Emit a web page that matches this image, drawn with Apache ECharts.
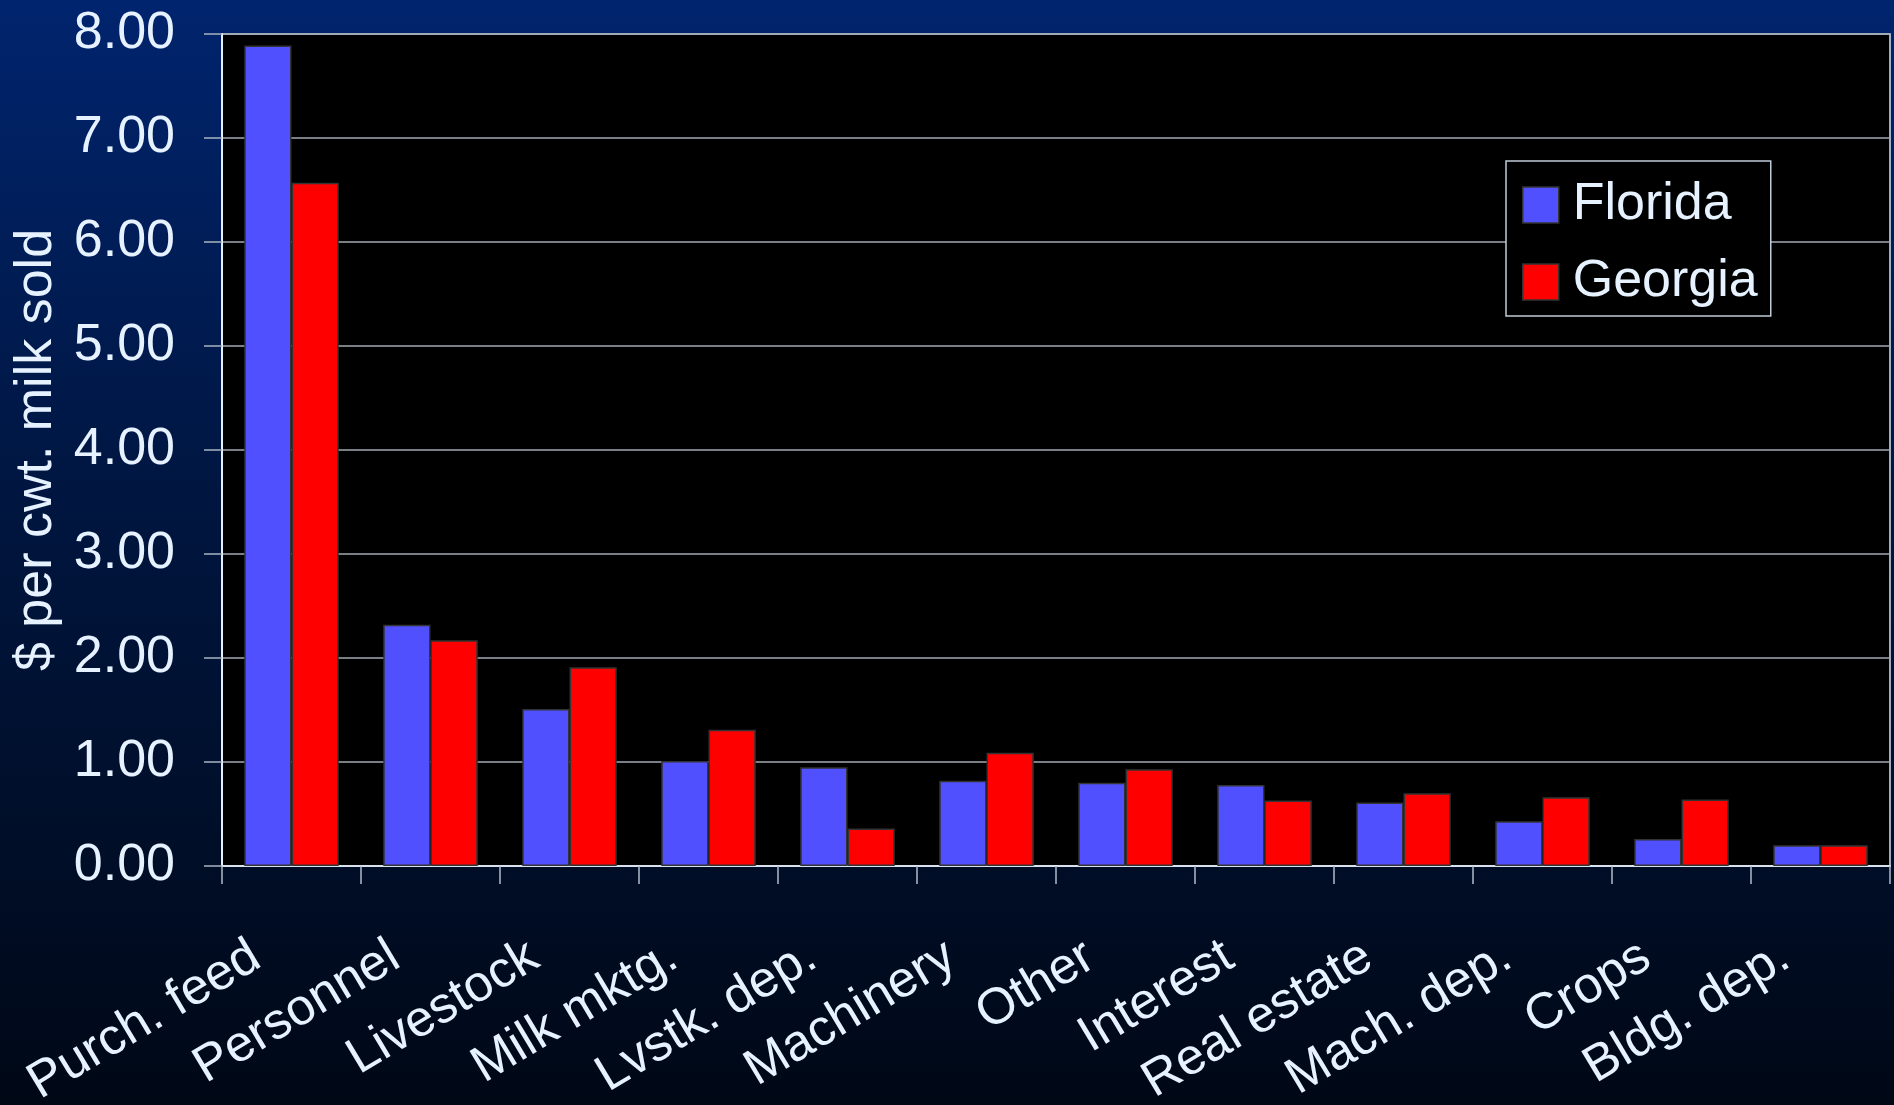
<!DOCTYPE html>
<html>
<head>
<meta charset="utf-8">
<script src="https://cdn.jsdelivr.net/npm/echarts@6/dist/echarts.min.js"></script>
<style>
html,body{margin:0;padding:0;width:1894px;height:1105px;overflow:hidden;}
#c{width:1894px;height:1105px;}
</style>
</head>
<body>
<div id="c"></div>
<script>
const categories = ["Purch. feed","Personnel","Livestock","Milk mktg.","Lvstk. dep.","Machinery","Other","Interest","Real estate","Mach. dep.","Crops","Bldg. dep."];
const florida = [7.89,2.32,1.51,1.01,0.95,0.82,0.80,0.78,0.61,0.43,0.26,0.20];
const georgia = [6.57,2.17,1.91,1.31,0.36,1.09,0.93,0.63,0.70,0.66,0.64,0.20];
const yTicks = [0,1,2,3,4,5,6,7,8];
const seriesNames = ["Florida","Georgia"];

const txt = '#e6f2ff';
const font = 'Liberation Sans, Arial, sans-serif';
const chart = echarts.init(document.getElementById('c'), null, {renderer:'canvas'});
chart.setOption({
  backgroundColor: {type:'linear',x:0,y:0,x2:0,y2:1,colorStops:[
    {offset:0,color:'#00246e'},{offset:0.45,color:'#001640'},{offset:1,color:'#000816'}]},
  animation:false,
  grid:{left:222,right:4,top:34,bottom:239,containLabel:false,outerBoundsMode:'none',show:true,backgroundColor:'#000000',borderColor:'#d8e2ee',borderWidth:1.5},
  legend:{
    orient:'vertical',left:1506,top:161,
    data:seriesNames,
    itemWidth:36,itemHeight:36,itemGap:25,
    padding:[18,13,8,16],
    borderColor:'#c0ccd8',borderWidth:1.5,backgroundColor:'#000000',
    icon:'rect',
    itemStyle:{borderColor:'#333333',borderWidth:1.5},
    textStyle:{color:txt,fontSize:52,fontFamily:font,padding:[0,0,0,9],lineHeight:52}
  },
  xAxis:{
    type:'category',data:categories,
    axisLine:{show:true,lineStyle:{color:'#d8e2ee',width:2}},
    axisTick:{show:true,length:18,alignWithLabel:false,lineStyle:{color:'#b0bcc8',width:1.5}},
    axisLabel:{interval:0,rotate:31,color:txt,fontSize:51,fontFamily:font,margin:66,padding:[0,41,0,0]}
  },
  yAxis:{
    type:'value',min:0,max:8,interval:1,
    name:'$ per cwt. milk sold',nameLocation:'middle',nameGap:156,
    nameTextStyle:{color:txt,fontSize:52,fontFamily:font},
    axisLine:{show:true,lineStyle:{color:'#e6f0fa',width:2}},
    axisTick:{show:true,length:18,lineStyle:{color:'#a8b4c0',width:1.5}},
    splitLine:{show:true,lineStyle:{color:'#a0aab4',width:1.5}},
    axisLabel:{color:txt,fontSize:52,fontFamily:font,margin:47,formatter:v=>v.toFixed(2)}
  },
  series:[
    {name:seriesNames[0],type:'bar',data:florida,barGap:'0%',barCategoryGap:'32%',
     itemStyle:{color:'#5050ff',borderColor:'#333333',borderWidth:1.5}},
    {name:seriesNames[1],type:'bar',data:georgia,barGap:'0%',barCategoryGap:'32%',
     itemStyle:{color:'#ff0000',borderColor:'#333333',borderWidth:1.5}}
  ]
});
</script>
</body>
</html>
